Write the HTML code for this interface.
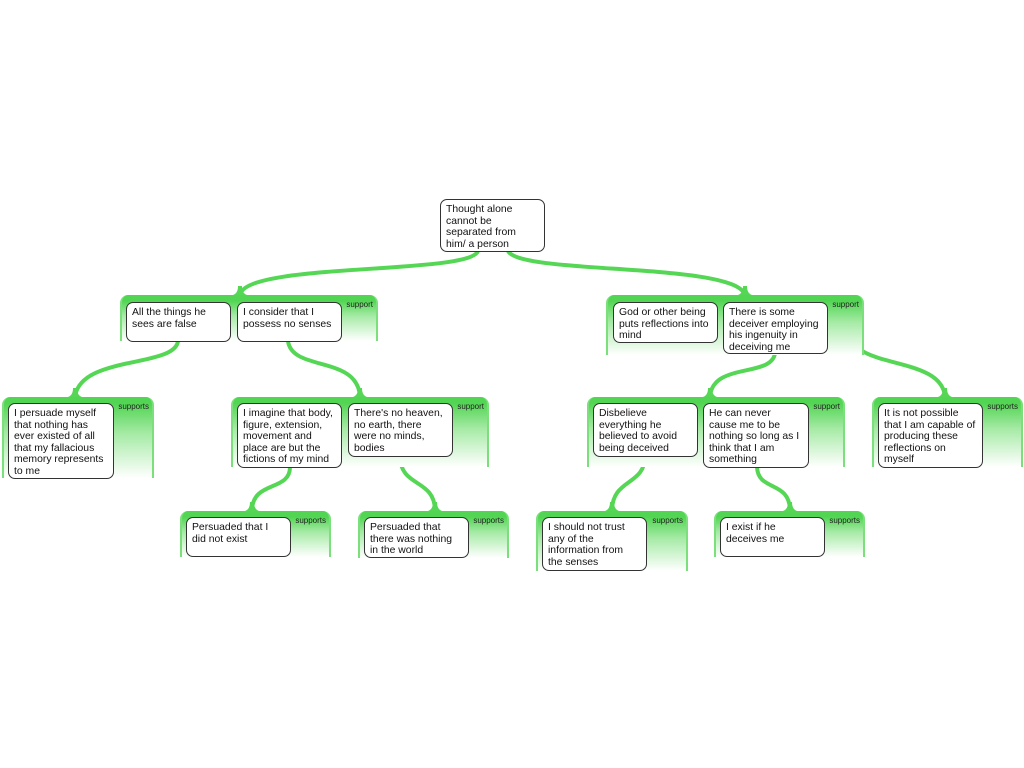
<!DOCTYPE html>
<html><head><meta charset="utf-8"><style>
body{margin:0;width:1024px;height:768px;background:#fff;position:relative;overflow:hidden;font-family:"Liberation Sans",sans-serif}
.g{position:absolute;border-radius:8px 8px 0 0;background:linear-gradient(#52d552 0,#52d552 6px,#a5eaa5 45%,#fff 100%);border-left:2px solid #7be07b;border-right:2px solid #7be07b;box-sizing:border-box}
.l{position:absolute;font-size:8px;color:#222;top:5px;right:3px}
.b{position:absolute;background:#fff;border:1.3px solid #333;border-radius:7px;box-sizing:border-box;font-size:10.4px;line-height:11.5px;padding:4px 5px;color:#111;white-space:nowrap}
svg{position:absolute;left:0;top:0}
</style></head><body>
<svg width="1024" height="768" fill="none" stroke="#55d655" stroke-linecap="round">
<g stroke-width="4">
<path d="M478 251 C470 275,245 262,240 295"/>
<path d="M508 251 C520 275,735 262,745 295"/>
<path d="M178 341 C175 368,80 355,75 397"/>
<path d="M288 341 C292 372,358 355,360 397"/>
<path d="M775 353 C772 378,712 362,710 397"/>
<path d="M945 397 C942 355,852 370,850 333"/>
<path d="M290 467 C290 492,252 480,252 511"/>
<path d="M400 456 C400 488,435 478,435 511"/>
<path d="M645 456 C645 486,612 478,612 511"/>
<path d="M757 467 C758 492,790 480,790 511"/>
</g>
<g fill="#55d655" stroke="none">
<path d="M226 296 C235 296 238 293 238 286 L242 286 C242 293 245 296 254 296Z"/>
<path d="M731 296 C740 296 743 293 743 286 L747 286 C747 293 750 296 759 296Z"/>
<path d="M61 398 C70 398 73 395 73 388 L77 388 C77 395 80 398 89 398Z"/>
<path d="M346 398 C355 398 358 395 358 388 L362 388 C362 395 365 398 374 398Z"/>
<path d="M696 398 C705 398 708 395 708 388 L712 388 C712 395 715 398 724 398Z"/>
<path d="M931 398 C940 398 943 395 943 388 L947 388 C947 395 950 398 959 398Z"/>
<path d="M238 512 C247 512 250 509 250 502 L254 502 C254 509 257 512 266 512Z"/>
<path d="M421 512 C430 512 433 509 433 502 L437 502 C437 509 440 512 449 512Z"/>
<path d="M598 512 C607 512 610 509 610 502 L614 502 C614 509 617 512 626 512Z"/>
<path d="M776 512 C785 512 788 509 788 502 L792 502 C792 509 795 512 804 512Z"/>
</g>
<path d="M844 331 L856 331" stroke-width="2"/>
</svg>

<div class="b" style="left:440px;top:199px;width:105px;height:53px">Thought alone<br>cannot be<br>separated from<br>him/ a person</div>

<div class="g" style="left:120px;top:295px;width:258px;height:46px"><span class="l">support</span></div>
<div class="b" style="left:126px;top:302px;width:105px;height:40px">All the things he<br>sees are false</div>
<div class="b" style="left:237px;top:302px;width:105px;height:40px">I consider that I<br>possess no senses</div>

<div class="g" style="left:606px;top:295px;width:258px;height:60px"><span class="l">support</span></div>
<div class="b" style="left:613px;top:302px;width:105px;height:41px">God or other being<br>puts reflections into<br>mind</div>
<div class="b" style="left:723px;top:302px;width:105px;height:52px">There is some<br>deceiver employing<br>his ingenuity in<br>deceiving me</div>

<div class="g" style="left:2px;top:397px;width:152px;height:81px"><span class="l">supports</span></div>
<div class="b" style="left:8px;top:403px;width:106px;height:76px">I persuade myself<br>that nothing has<br>ever existed of all<br>that my fallacious<br>memory represents<br>to me</div>

<div class="g" style="left:231px;top:397px;width:258px;height:70px"><span class="l">support</span></div>
<div class="b" style="left:237px;top:403px;width:105px;height:65px">I imagine that body,<br>figure, extension,<br>movement and<br>place are but the<br>fictions of my mind</div>
<div class="b" style="left:348px;top:403px;width:105px;height:54px">There's no heaven,<br>no earth, there<br>were no minds,<br>bodies</div>

<div class="g" style="left:587px;top:397px;width:258px;height:70px"><span class="l">support</span></div>
<div class="b" style="left:593px;top:403px;width:105px;height:54px">Disbelieve<br>everything he<br>believed to avoid<br>being deceived</div>
<div class="b" style="left:703px;top:403px;width:106px;height:65px">He can never<br>cause me to be<br>nothing so long as I<br>think that I am<br>something</div>

<div class="g" style="left:872px;top:397px;width:151px;height:70px"><span class="l">supports</span></div>
<div class="b" style="left:878px;top:403px;width:105px;height:65px">It is not possible<br>that I am capable of<br>producing these<br>reflections on<br>myself</div>

<div class="g" style="left:180px;top:511px;width:151px;height:46px"><span class="l">supports</span></div>
<div class="b" style="left:186px;top:517px;width:105px;height:40px">Persuaded that I<br>did not exist</div>

<div class="g" style="left:358px;top:511px;width:151px;height:47px"><span class="l">supports</span></div>
<div class="b" style="left:364px;top:517px;width:105px;height:41px">Persuaded that<br>there was nothing<br>in the world</div>

<div class="g" style="left:536px;top:511px;width:152px;height:60px"><span class="l">supports</span></div>
<div class="b" style="left:542px;top:517px;width:105px;height:54px">I should not trust<br>any of the<br>information from<br>the senses</div>

<div class="g" style="left:714px;top:511px;width:151px;height:46px"><span class="l">supports</span></div>
<div class="b" style="left:720px;top:517px;width:105px;height:40px">I exist if he<br>deceives me</div>
</body></html>
